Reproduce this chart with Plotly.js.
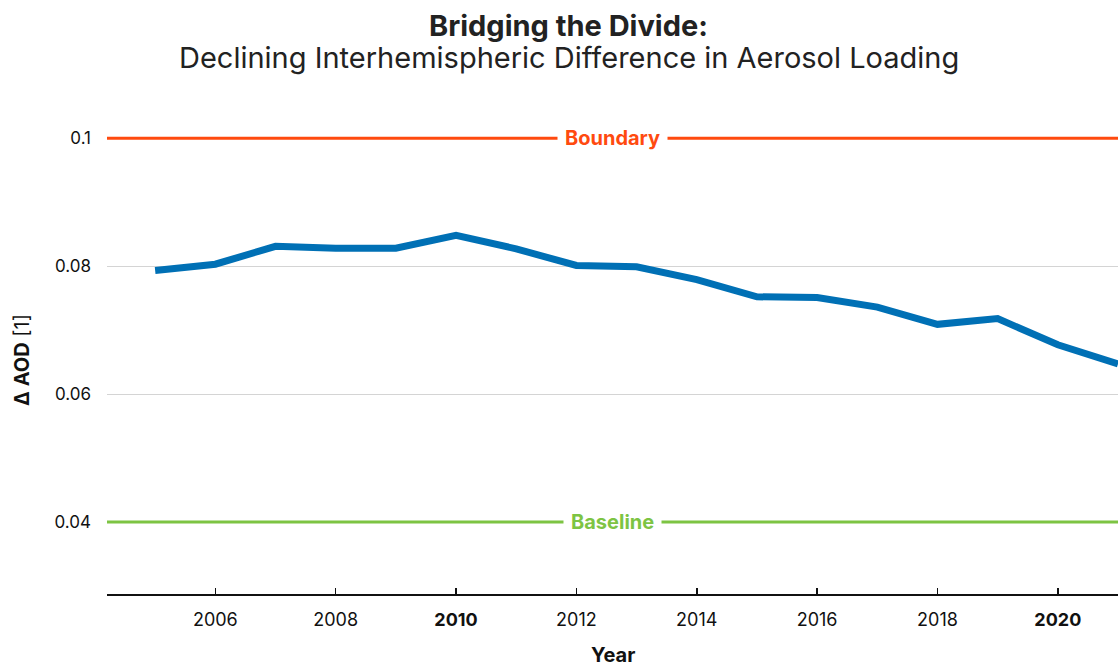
<!DOCTYPE html>
<html>
<head>
<meta charset="utf-8">
<script src="https://cdn.plot.ly/plotly-3.0.1.min.js"></script>
<style>html,body{margin:0;padding:0;background:#fff;}#chart{width:1118px;height:668px;}</style>
</head>
<body>
<div id="chart"></div>
<script>
const years = [2005, 2006, 2007, 2008, 2009, 2010, 2011, 2012, 2013, 2014, 2015, 2016, 2017, 2018, 2019, 2020, 2021];
const deltaAOD = [0.0793, 0.0803, 0.0831, 0.0828, 0.0828, 0.0848, 0.0827, 0.0801, 0.0799, 0.0779, 0.0752, 0.0751, 0.0736, 0.0709, 0.0718, 0.0677, 0.0647];
const boundaryValue = 0.1;
const baselineValue = 0.04;
const xTickVals = [2004.2, 2006, 2008, 2010, 2012, 2014, 2016, 2018, 2020];
const xTickText = ["", "2006", "2008", "<b>2010</b>", "2012", "2014", "2016", "2018", "<b>2020</b>"];
const yTickVals = [0.04, 0.06, 0.08, 0.1];
const yTickText = ["0.04", "0.06", "0.08", "0.1"];
const titleMain = "Bridging the Divide:";
const titleSub = "Declining Interhemispheric Difference in Aerosol Loading";
const xTitle = "Year";

const FONT = "Inter, 'Noto Sans', sans-serif";
const boundaryColor = "#FF4A0F";
const baselineColor = "#7DC443";

const traces = [{
  x: years, y: deltaAOD, type: "scatter", mode: "lines",
  line: {color: "#0070B5", width: 7},
  hoverinfo: "x+y", showlegend: false
}];

const layout = {
  width: 1118, height: 668,
  paper_bgcolor: "#fff", plot_bgcolor: "#fff",
  margin: {l: 107, r: 0, t: 126, b: 74},
  font: {family: FONT, color: "#222", size: 16},
  xaxis: {
    range: [2004.2, 2021],
    tickmode: "array", tickvals: xTickVals, ticktext: xTickText,
    ticks: "inside", ticklen: 6, tickwidth: 1.5, tickcolor: "#111",
    showline: true, linecolor: "#111", linewidth: 2,
    showgrid: false, zeroline: false,
    tickfont: {size: 18, color: "#111"},
    ticklabelstandoff: 8
  },
  yaxis: {
    range: [0.02875, 0.1019],
    tickmode: "array", tickvals: yTickVals, ticktext: yTickText,
    ticks: "", showline: false, zeroline: false,
    showgrid: true, gridcolor: "#d4d4d4", gridwidth: 1,
    tickfont: {size: 17, color: "#111"},
    ticklabelstandoff: 15,
    title: {text: "<b>Δ AOD</b> [1]", font: {size: 20, color: "#111"}, standoff: 19}
  },
  shapes: [
    {type: "line", xref: "paper", x0: 0, x1: 1, yref: "y", y0: boundaryValue, y1: boundaryValue,
     line: {color: boundaryColor, width: 3}},
    {type: "line", xref: "paper", x0: 0, x1: 1, yref: "y", y0: baselineValue, y1: baselineValue,
     line: {color: baselineColor, width: 3}}
  ],
  annotations: [
    {xref: "paper", x: 0.5, yref: "y", y: boundaryValue, text: "<b>Boundary</b>", showarrow: false,
     font: {size: 20, color: boundaryColor}, bgcolor: "#fff", borderpad: 7},
    {xref: "paper", x: 0.5, yref: "y", y: baselineValue, text: "<b>Baseline</b>", showarrow: false,
     font: {size: 20, color: baselineColor}, bgcolor: "#fff", borderpad: 7},
    {xref: "paper", x: 0.4565, xanchor: "center", yref: "paper", y: 1.2140, yanchor: "middle",
     text: "<b>" + titleMain + "</b>", showarrow: false, font: {size: 29, color: "#222"}},
    {xref: "paper", x: 0.4565, xanchor: "center", yref: "paper", y: 1.1474, yanchor: "middle",
     text: titleSub, showarrow: false, font: {size: 29, color: "#222"}},
    {xref: "paper", x: 0.5, xanchor: "center", yref: "paper", y: -0.1303, yanchor: "middle",
     text: "<b>" + xTitle + "</b>", showarrow: false, font: {size: 20, color: "#111"}}
  ]
};

Plotly.newPlot("chart", traces, layout, {displayModeBar: false, staticPlot: true});
</script>
</body>
</html>
